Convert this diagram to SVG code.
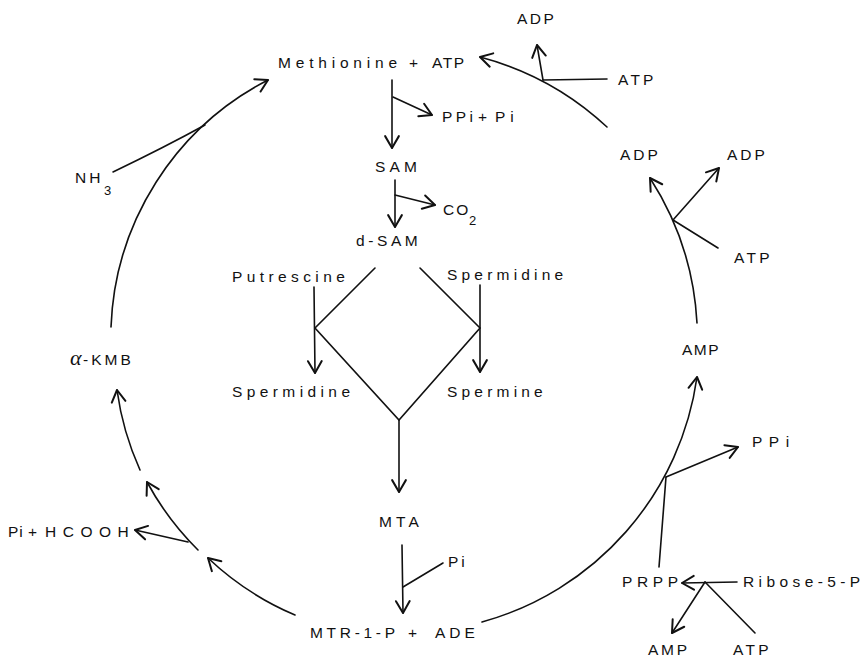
<svg xmlns="http://www.w3.org/2000/svg" width="863" height="659" viewBox="0 0 863 659">
<style>
text{font-family:"Liberation Sans",Arial,sans-serif;font-size:15.5px;fill:#111}
.sub{font-size:13px}
.ln{fill:none;stroke:#111;stroke-width:1.6;stroke-linecap:round}
.ar{marker-end:url(#ah)}
</style>
<defs>
<marker id="ah" markerUnits="userSpaceOnUse" markerWidth="20" markerHeight="20" refX="0" refY="0" viewBox="-12 -8 14 16" orient="auto" overflow="visible">
<path d="M-9.5,-5.5 L0,0 L-9.5,5.5" fill="none" stroke="#111" stroke-width="1.6" stroke-linecap="round" stroke-linejoin="round"/>
</marker>
</defs>
<rect width="863" height="659" fill="#fff"/>
<g id="connectors">
<path class="ln ar" d="M295,615 A292,292 0 0 1 208,558"/>
<path class="ln ar" d="M198,550 A291,291 0 0 1 147,482"/>
<path class="ln ar" d="M140,470 A290,290 0 0 1 117,390"/>
<path class="ln ar" d="M111,327 A290,290 0 0 1 268,80"/>
<path class="ln" d="M113,172 Q165,147 205,125"/>
<path class="ln ar" d="M188,542 L135,530"/>
<path class="ln ar" d="M482,622 A297,297 0 0 0 697,377"/>
<path class="ln ar" d="M697,323 A297,297 0 0 0 650,178"/>
<path class="ln ar" d="M607,127 A297,297 0 0 0 480,57"/>
<path class="ln" d="M607,79 L543,80"/>
<path class="ln ar" d="M543,80 L537,45"/>
<path class="ln" d="M718,248 L673,220"/>
<path class="ln ar" d="M673,220 L719,168"/>
<path class="ln" d="M659,567 L666,477"/>
<path class="ln ar" d="M666,477 L738,447"/>
<path class="ln ar" d="M737,582 L682,583"/>
<path class="ln" d="M755,633 L705,582"/>
<path class="ln ar" d="M705,582 L672,633"/>
<path class="ln ar" d="M392,80 L392,148"/>
<path class="ln ar" d="M393,97 L432,115"/>
<path class="ln ar" d="M395,180 L395,227"/>
<path class="ln ar" d="M395,195 L435,205"/>
<path class="ln" d="M375,268 L315,328 L399,420 L480,328 L420,268"/>
<path class="ln ar" d="M314,287 L315,373"/>
<path class="ln ar" d="M480,285 L480,372"/>
<path class="ln ar" d="M399,420 L399,492"/>
<path class="ln ar" d="M402,545 L403,613"/>
<path class="ln" d="M403,587 L443,563"/>
</g>
<g id="methionine-atp"><text x="278" y="68" letter-spacing="4.8">Methionine</text><text x="409" y="68">+</text><text x="432" y="68" letter-spacing="1.5">ATP</text></g>
<g id="adp-top"><text x="517" y="24" letter-spacing="2.5">ADP</text></g>
<g id="atp-top"><text x="618" y="85" letter-spacing="3.2">ATP</text></g>
<g id="ppi-pi"><text x="442" y="122" letter-spacing="3.4">PPi</text><text x="478" y="122">+</text><text x="495" y="122" letter-spacing="5">Pi</text></g>
<g id="sam"><text x="375" y="172" letter-spacing="4.2">SAM</text></g>
<g id="co2"><text x="443" y="215" letter-spacing="2">CO</text><text class="sub" x="469" y="225">2</text></g>
<g id="dsam"><text x="356" y="246" letter-spacing="3.6">d-SAM</text></g>
<g id="putrescine"><text x="232" y="282" letter-spacing="4.4">Putrescine</text></g>
<g id="spermidine-r"><text x="447" y="280" letter-spacing="4.2">Spermidine</text></g>
<g id="spermidine-l"><text x="232" y="397" letter-spacing="4.4">Spermidine</text></g>
<g id="spermine"><text x="447" y="397" letter-spacing="4.2">Spermine</text></g>
<g id="mta"><text x="379" y="527" letter-spacing="4.1">MTA</text></g>
<g id="pi-center"><text x="448" y="567" letter-spacing="3">Pi</text></g>
<g id="mtr-ade"><text x="310" y="638" letter-spacing="3.7">MTR-1-P</text><text x="408" y="638">+</text><text x="435" y="638" letter-spacing="4">ADE</text></g>
<g id="pi-hcooh"><text x="8" y="537" letter-spacing="1">Pi</text><text x="28" y="537">+</text><text x="45" y="537" letter-spacing="6.5">HCOOH</text></g>
<g id="akmb"><text x="70" y="365"><tspan style="font-family:'Liberation Serif',serif;font-style:italic;font-size:22px">α</tspan><tspan x="83" letter-spacing="3">-KMB</tspan></text></g>
<g id="nh3"><text x="75" y="183" letter-spacing="3">NH</text><text class="sub" x="104" y="195">3</text></g>
<g id="adp-l"><text x="620" y="160" letter-spacing="3">ADP</text></g>
<g id="adp-r"><text x="727" y="160" letter-spacing="3">ADP</text></g>
<g id="atp-mid"><text x="734" y="263" letter-spacing="3.3">ATP</text></g>
<g id="amp-mid"><text x="682" y="355" letter-spacing="1.5">AMP</text></g>
<g id="ppi-r"><text x="752" y="447" letter-spacing="6.5">PPi</text></g>
<g id="prpp"><text x="622" y="587" letter-spacing="4.6">PRPP</text></g>
<g id="ribose"><text x="743" y="587" letter-spacing="4.4">Ribose-5-P</text></g>
<g id="amp-bottom"><text x="648" y="655" letter-spacing="2.7">AMP</text></g>
<g id="atp-bottom"><text x="733" y="655" letter-spacing="3.3">ATP</text></g>
</svg>
